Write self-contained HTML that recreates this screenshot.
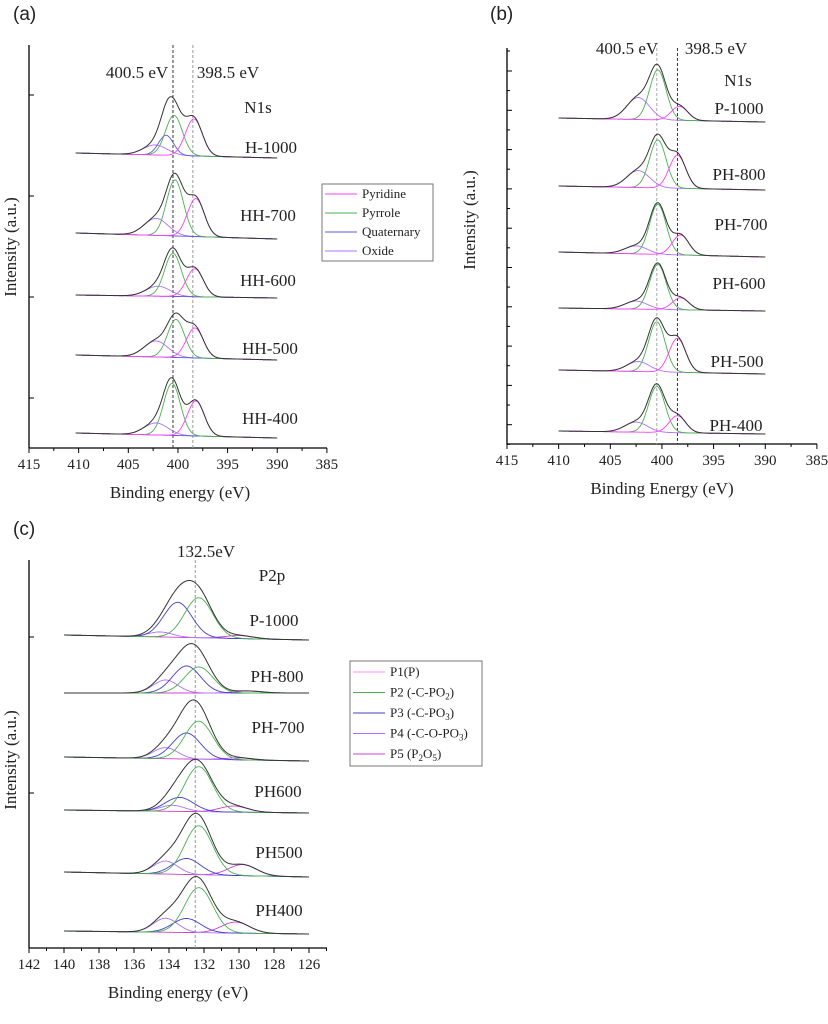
<!DOCTYPE html>
<html><head><meta charset="utf-8"><style>
html,body{margin:0;padding:0;background:#fff;}
svg{display:block;}
.t{font-family:"Liberation Serif","Times New Roman",serif;font-size:17px;fill:#222;}
.tk{font-family:"Liberation Serif","Times New Roman",serif;font-size:15px;fill:#222;}
.lg{font-family:"Liberation Serif","Times New Roman",serif;font-size:13px;fill:#222;}
.pl{font-family:"Liberation Sans",Arial,sans-serif;font-size:19px;fill:#222;}
</style></head><body>
<svg id="fig" width="828" height="1024" viewBox="0 0 828 1024">
<g id="pa"></g>
<g id="pb"></g>
<g id="pc"></g>
</svg>
<script>
// ---------- Panel (a) data ----------
const aSamples = ["H-1000","HH-700","HH-600","HH-500","HH-400"];
const aBaseL = [295,215,153,93,15];
const aBaseR = [290,209,150,88,10];
const aPyridineC = [398.4,398.2,398.3,398.3,398.2];
const aPyridineH = [37,38,28,30,35];
const aPyrroleC = [400.4,400.3,400.5,400.2,400.6];
const aPyrroleH = [40,56,43,38,52];
const aQuatC = [401.2,401.3,401.3,401.3,401.3];
const aQuatH = [20,0,0,0,0];
const aOxideC = [402.3,402.2,402.0,402.2,402.2];
const aOxideH = [10,17,10,16,12];
const aTicks = [415,410,405,400,395,390,385];
// ---------- Panel (b) data ----------
const bSamples = ["P-1000","PH-800","PH-700","PH-600","PH-500","PH-400"];
const bBaseL = [326,258,192,136,74,13];
const bBaseR = [322,254,187,133,70,10];
const bPyridineC = [398.3,398.5,398.2,398.2,398.5,398.5];
const bPyridineH = [14,33,20,12,34,17];
const bPyrroleC = [400.4,400.4,400.4,400.4,400.5,400.5];
const bPyrroleH = [50,48,50,45,50,46];
const bOxideC = [402.3,402.3,402.5,402.5,402.3,402.5];
const bOxideH = [22,17,8,8,10,10];
const bTicks = [415,410,405,400,395,390,385];
// ---------- Panel (c) data ----------
const cSamples = ["P-1000","PH-800","PH-700","PH600","PH500","PH400"];
const cBaseL = [313,255,191,138,76,17];
const cBaseR = [308,255,187,135,71,14];
const cP2C = [132.3,132.3,132.3,132.3,132.3,132.3];
const cP2H = [40,26,38,45,49,45];
const cP3C = [133.5,133.0,133.0,133.4,133.0,133.0];
const cP3H = [35,27,26,14,16,14];
const cP4C = [134.5,134.2,134.2,133.8,134.2,134.2];
const cP4H = [5,13,11,6,13,14];
const cP5C = [130.0,129.5,130.0,130.3,129.8,130.2];
const cP5H = [3,2,2,6,11,11];
const cTicks = [142,140,138,136,134,132,130,128,126];

const NS="http://www.w3.org/2000/svg";
function mk(parent,tag,attrs,text){const e=document.createElementNS(NS,tag);for(const k in attrs)e.setAttribute(k,attrs[k]);if(text!==undefined)e.textContent=text;parent.appendChild(e);return e;}
function gauss(x,c,h,s){return h*Math.exp(-((x-c)*(x-c))/(2*s*s));}

function panel(g,o){
  const X=e=>o.x0+(o.e0-e)*o.sx;
  const Y=v=>o.bottom-v;
  let el=mk(g,'line',{x1:o.x0,y1:o.top,x2:o.x0,y2:o.bottom,stroke:'#000','stroke-width':1.3});
  
  
  el=mk(g,'line',{x1:o.x0,y1:o.bottom,x2:o.xEnd,y2:o.bottom,stroke:'#000','stroke-width':1.3});
  
  
  o.ticks.forEach((t,i)=>{
    mk(g,'line',{x1:X(t),y1:o.bottom,x2:X(t),y2:o.bottom+5,stroke:'#000','stroke-width':1});
    if(i<o.ticks.length-1){const m=(t+o.ticks[i+1])/2;mk(g,'line',{x1:X(m),y1:o.bottom,x2:X(m),y2:o.bottom+3,stroke:'#000','stroke-width':1});}
    el=mk(g,'text',{x:X(t),y:o.bottom+21,'text-anchor':'middle',class:'tk'},String(t));
    
    
  });
  if(o.lastMinor){mk(g,'line',{x1:X(o.lastMinor),y1:o.bottom,x2:X(o.lastMinor),y2:o.bottom+3,stroke:'#000'});}
  o.yTicks.forEach(([y,l])=>mk(g,'line',{x1:o.x0,y1:y,x2:o.x0+l,y2:y,stroke:'#000','stroke-width':1}));
  el=mk(g,'text',{x:o.titleX,y:o.bottom+50,'text-anchor':'middle',class:'t'},o.xTitle);
  
  
  el=mk(g,'text',{x:0,y:0,'text-anchor':'middle',class:'t',transform:`translate(${o.ylx},${o.yly}) rotate(-90)`},'Intensity (a.u.)');
  
  
  o.refs.forEach(r=>{
    el=mk(g,'line',{x1:X(r.e),y1:o.top,x2:X(r.e),y2:o.bottom,stroke:r.c,'stroke-width':1,'stroke-dasharray':'3,2'});
    
    
  });
  o.samples.forEach((name,i)=>{
    const sg=mk(g,'g',{});
    
    
    const base=e=>o.baseL[i]+(o.baseR[i]-o.baseL[i])*(o.eL-e)/(o.eL-o.eR);
    const pts=[];for(let e=o.eL;e>=o.eR-1e-9;e-=0.04)pts.push(e);
    o.comps.forEach(c=>{
      const h=c.h[i];
      const d=pts.map(e=>X(e).toFixed(1)+','+Y(base(e)+gauss(e,c.c[i],h,c.s)).toFixed(1)).join(' ');
      const p=mk(sg,'polyline',{points:d,fill:'none',stroke:c.col,'stroke-width':0.9});
      
      
    });
    const d=pts.map(e=>{let v=base(e);o.comps.forEach(c=>v+=gauss(e,c.c[i],c.h[i],c.s));return X(e).toFixed(1)+','+Y(v).toFixed(1);}).join(' ');
    const p=mk(sg,'polyline',{points:d,fill:'none',stroke:'#333','stroke-width':1});
    
    
    const t=mk(sg,'text',{x:o.lab[i][0],y:o.lab[i][1],class:'t','text-anchor':'middle'},name);
    
    
  });
  o.texts.forEach(([x,y,s,n])=>{el=mk(g,'text',{x:x,y:y,class:'t','text-anchor':'middle'},s);});
  el=mk(g,'text',{x:o.pl[0],y:o.pl[1],class:'pl'},o.pl[2]);
  
  
  if(o.legend){
    const L=o.legend;
    const lg=mk(g,'g',{});
    
    
    mk(lg,'rect',{x:L.x,y:L.y,width:L.w,height:L.h,fill:'#fff',stroke:'#777','stroke-width':1});
    L.items.forEach((it,k)=>{
      const yy=L.y+L.y0+k*L.dy;
      const en=mk(lg,'g',{});
      
      
      mk(en,'line',{x1:L.x+3,y1:yy,x2:L.x+35,y2:yy,stroke:it[1],'stroke-width':1});
      const t=mk(en,'text',{x:L.x+40,y:yy+4,class:'lg'});
      t.innerHTML=it[0];
    });
  }
}

const PYR='#ff3cff',PYL='#4caf50',QUA='#5a5ae0',OXI='#b070ff';
panel(document.getElementById('pa'),{
  x0:29,e0:415,sx:9.93,xEnd:327,top:45,bottom:448,eL:410.3,eR:390,
  ticks:aTicks,yTicks:[[95,5],[196,5],[297,5],[398,5]],
  xTitle:'Binding energy (eV)',titleX:180,ylx:16,yly:247,
  refs:[{e:400.5,c:'#333'},{e:398.5,c:'#999'}],
  samples:aSamples,baseL:aBaseL,baseR:aBaseR,
  comps:[{n:'oxide',c:aOxideC,h:aOxideH,s:1.2,col:OXI},{n:'quaternary',c:aQuatC,h:aQuatH,s:0.75,col:QUA},
         {n:'pyrrole',c:aPyrroleC,h:aPyrroleH,s:0.85,col:PYL},{n:'pyridine',c:aPyridineC,h:aPyridineH,s:0.85,col:PYR}],
  lab:[[271,153],[268,221],[268,286],[270,354],[270,424]],
  texts:[[137,78,'400.5 eV','label-400-5'],[228,78,'398.5 eV','label-398-5'],[258,113,'N1s','n1s-label']],
  pl:[13,20,'(a)'],
  legend:{x:322,y:184,w:111,h:77,y0:10,dy:19,items:[['Pyridine',PYR],['Pyrrole',PYL],['Quaternary',QUA],['Oxide',OXI]]}
});
const bY=[];for(let k=0;k<10;k++){const y=71+k*39.3;bY.push([y,5]);bY.push([y+19.6,3]);}
bY.push([51,3]);
panel(document.getElementById('pb'),{
  x0:507,e0:415,sx:10.33,xEnd:817,top:48,bottom:444,eL:410,eR:390,
  ticks:bTicks,yTicks:bY,
  xTitle:'Binding Energy (eV)',titleX:662,ylx:475,yly:220,
  refs:[{e:400.5,c:'#aaa'},{e:398.5,c:'#333'}],
  samples:bSamples,baseL:bBaseL,baseR:bBaseR,
  comps:[{n:'oxide',c:bOxideC,h:bOxideH,s:1.1,col:OXI},
         {n:'pyrrole',c:bPyrroleC,h:bPyrroleH,s:0.8,col:PYL},{n:'pyridine',c:bPyridineC,h:bPyridineH,s:0.8,col:PYR}],
  lab:[[739,114],[739,180],[741,230],[739,289],[737,367],[736,431]],
  texts:[[627,54,'400.5 eV','label-400-5'],[716,54,'398.5 eV','label-398-5'],[738,86,'N1s','n1s-label']],
  pl:[490,20,'(b)']
});
panel(document.getElementById('pc'),{
  x0:29,e0:142,sx:17.5,xEnd:327,top:560,bottom:948,eL:140,eR:126,
  ticks:cTicks,yTicks:[[637,5],[793,5]],lastMinor:125,
  xTitle:'Binding energy (eV)',titleX:178,ylx:16,yly:760,
  refs:[{e:132.5,c:'#999'}],
  samples:cSamples,baseL:cBaseL,baseR:cBaseR,
  comps:[{n:'p5',c:cP5C,h:cP5H,s:0.8,col:'#d040d0'},{n:'p4',c:cP4C,h:cP4H,s:0.7,col:OXI},
         {n:'p3',c:cP3C,h:cP3H,s:0.8,col:'#4040c8'},{n:'p2',c:cP2C,h:cP2H,s:0.8,col:PYL}],
  lab:[[274,626],[277,682],[278,733],[278,797],[279,858],[279,916]],
  texts:[[206,557,'132.5eV','label-132-5'],[272,581,'P2p','p2p-label']],
  pl:[13,535,'(c)'],
  legend:{x:350,y:661,w:132,h:105,y0:11,dy:20.5,items:[['P1(P)','#ff8cff'],['P2 (-C-PO<tspan font-size="9" dy="3">2</tspan><tspan dy="-3">)</tspan>',PYL],['P3 (-C-PO<tspan font-size="9" dy="3">3</tspan><tspan dy="-3">)</tspan>','#4040c8'],['P4 (-C-O-PO<tspan font-size="9" dy="3">3</tspan><tspan dy="-3">)</tspan>',OXI],['P5 (P<tspan font-size="9" dy="3">2</tspan><tspan dy="-3">O</tspan><tspan font-size="9" dy="3">5</tspan><tspan dy="-3">)</tspan>','#d040d0']]}
});
</script>
</body></html>
